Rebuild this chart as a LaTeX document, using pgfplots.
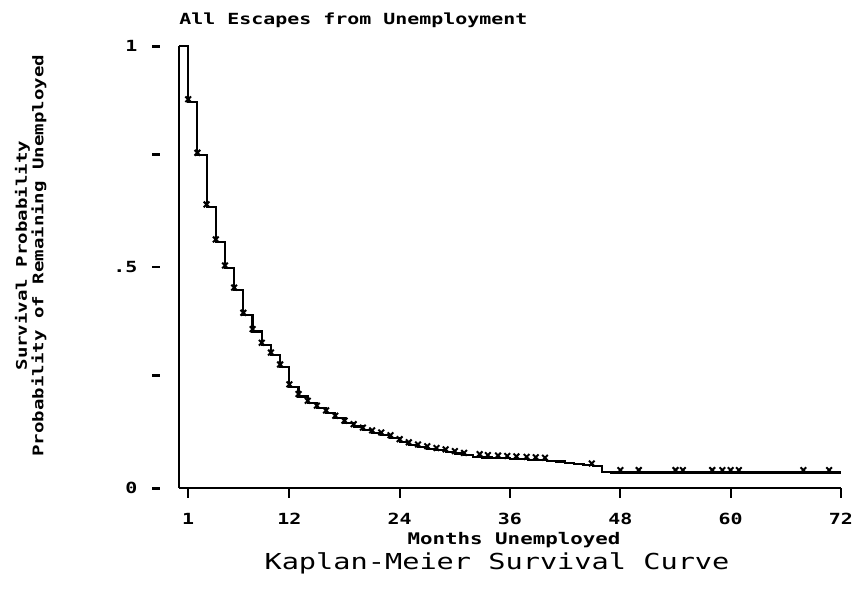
\documentclass[border=0pt]{standalone}
\usepackage{fontspec}
\usepackage{pgfplots}
\pgfplotsset{compat=1.18}
\newfontfamily\dmfont[FakeStretch=1.3]{DejaVu Sans Mono}
\newfontfamily\dmbold[FakeStretch=1.3]{DejaVu Sans Mono Bold}
\pgfplotstableread{
t S
0 1.000
1 0.874
2 0.753
3 0.636
4 0.557
5 0.498
6 0.448
7 0.391
8 0.354
9 0.323
10 0.301
11 0.274
12 0.229
13 0.207
14 0.192
15 0.181
16 0.170
17 0.158
18 0.147
19 0.139
20 0.131
21 0.125
22 0.120
23 0.114
24 0.105
25 0.098
26 0.093
27 0.089
28 0.085
29 0.082
30 0.078
31 0.074
32 0.071
33 0.069
34 0.068
35 0.067
36 0.066
37 0.065
38 0.064
39 0.063
40 0.062
41 0.060
42 0.057
43 0.054
44 0.052
45 0.050
46 0.036
47 0.035
72 0.035
}\kmcurve
\pgfplotstableread{
t S
1 0.874
2 0.753
3 0.636
4 0.557
5 0.498
6 0.448
7 0.391
8 0.354
9 0.323
10 0.301
11 0.274
12 0.229
13 0.207
14 0.192
15 0.181
16 0.170
17 0.158
18 0.147
19 0.139
20 0.131
21 0.125
22 0.120
23 0.114
24 0.105
25 0.098
26 0.093
27 0.089
28 0.085
29 0.082
30 0.078
31 0.074
32.7 0.071
33.6 0.069
34.7 0.068
35.7 0.067
36.7 0.066
37.8 0.065
38.8 0.064
39.8 0.063
44.9 0.050
48.0 0.035
50.0 0.035
54.0 0.035
54.8 0.035
58.0 0.035
59.1 0.035
60.0 0.035
60.9 0.035
67.9 0.035
70.7 0.035
}\censored
\newcommand{\yd}{\rule[3pt]{6pt}{1.6pt}}
\begin{document}
\begin{tikzpicture}
\useasboundingbox (0,0) rectangle (640.5pt,441.75pt);
\begin{axis}[
  at={(134.25pt,75.75pt)}, anchor=south west,
  width=496.5pt, height=331.5pt, scale only axis,
  xmin=0, xmax=72, ymin=0, ymax=1,
  axis x line=bottom, axis y line=left,
  axis line style={-, line width=1.6pt},
  major tick length=7.5pt, tick align=outside,
  xtick style={line width=1.6pt, black},
  ytick style={draw=none},
  xtick={1,12,24,36,48,60,72},
  xticklabel style={anchor=north, yshift=-11pt, font=\fontsize{11.5}{11.5}\dmbold, inner sep=0pt},
  ytick={0,0.25,0.5,0.75,1},
  yticklabels={{0\hspace{11pt}\yd},{\yd},{.5\hspace{11pt}\yd},{\yd},{1\hspace{11pt}\yd}},
  yticklabel style={anchor=east, xshift=-6.5pt, font=\fontsize{11.5}{11.5}\dmbold, inner sep=0pt},
  /pgf/number format/assume math mode=true,
  clip=false,
]
\addplot[const plot, black, line width=1.6pt] table[x=t, y=S] {\kmcurve};
\addplot[only marks, mark=x, mark size=3pt, mark options={line width=1.5pt, yshift=1.8pt}, black] table[x=t, y=S] {\censored};
\end{axis}
\node[font=\fontsize{11.5}{12}\dmbold, anchor=west] at (131pt,426.75pt) {All Escapes from Unemployment};
\node[font=\fontsize{11}{11}\dmbold, rotate=90, align=center] at (23pt,250pt) {Survival Probability\\Probability of Remaining Unemployed};
\node[font=\fontsize{12}{12}\dmbold] at (385.5pt,37pt) {Months Unemployed};
\node[font=\fontsize{16.5}{17}\dmfont] at (372.75pt,19pt) {Kaplan-Meier Survival Curve};
\end{tikzpicture}
\end{document}
